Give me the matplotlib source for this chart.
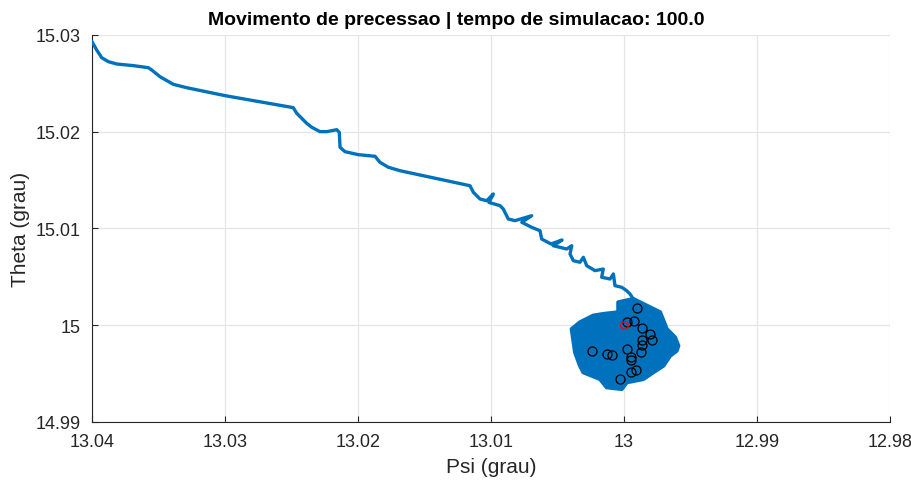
import matplotlib

matplotlib.use("Agg")
import matplotlib.pyplot as plt

plt.rcParams["font.family"] = ["Liberation Sans", "DejaVu Sans"]

# precession path (psi, theta) in degrees
psi_path = [13.04000, 13.03965, 13.03927, 13.03877, 13.03814, 13.03689, 13.03577, 13.03551,
            13.03489, 13.03389, 13.03288, 13.03000, 13.02487, 13.02461, 13.02386, 13.02348,
            13.02286, 13.02235, 13.02160, 13.02141, 13.02135, 13.02098, 13.01998, 13.01872,
            13.01835, 13.01772, 13.01684, 13.01158, 13.01133, 13.01083, 13.01032, 13.00983,
            13.01015, 13.00932, 13.00908, 13.00870, 13.00820, 13.00694, 13.00769, 13.00694,
            13.00632, 13.00619, 13.00549, 13.00466, 13.00532, 13.00431, 13.00393, 13.00406,
            13.00381, 13.00331, 13.00306, 13.00280, 13.00218, 13.00156, 13.00168, 13.00105,
            13.00080, 13.00068, 13.00017, 12.99980, 12.99955, 12.99930, 12.99905]
theta_path = [15.02931, 15.02845, 15.02765, 15.02724, 15.02700, 15.02683, 15.02662, 15.02638,
              15.02569, 15.02490, 15.02455, 15.02373, 15.02249, 15.02191, 15.02087, 15.02046,
              15.02001, 15.02001, 15.02021, 15.01994, 15.01839, 15.01794, 15.01763, 15.01746,
              15.01684, 15.01633, 15.01597, 15.01442, 15.01374, 15.01305, 15.01287, 15.01357,
              15.01269, 15.01236, 15.01202, 15.01098, 15.01081, 15.01132, 15.01064, 15.01012,
              15.00977, 15.00891, 15.00840, 15.00881, 15.00822, 15.00788, 15.00822, 15.00736,
              15.00667, 15.00651, 15.00702, 15.00615, 15.00564, 15.00581, 15.00496, 15.00478,
              15.00530, 15.00409, 15.00392, 15.00357, 15.00323, 15.00271, 15.00202]

# envelope of the nutation cloud at the end of the run
psi_cloud = [13.00043, 12.99930, 12.99855, 12.99729, 12.99679, 12.99617, 12.99592, 12.99604,
             12.99654, 12.99704, 12.99780, 12.99855, 12.99980, 13.00017, 13.00130, 13.00180,
             13.00306, 13.00331, 13.00368, 13.00393, 13.00331, 13.00231, 13.00156, 13.00043]
theta_cloud = [15.00237, 15.00271, 15.00220, 15.00134, 14.99961, 14.99875, 14.99789, 14.99737,
               14.99685, 14.99582, 14.99514, 14.99444, 14.99410, 14.99341, 14.99359, 14.99444,
               14.99514, 14.99582, 14.99720, 14.99961, 15.00030, 15.00099, 15.00116, 15.00134]

# sampled states
psi_samples = [12.99900, 12.99980, 12.99923, 12.99867, 12.99805, 12.99792, 12.99867, 12.99867,
               12.99872, 12.99980, 12.99947, 12.99947, 13.00243, 13.00130, 13.00093, 12.99910,
               12.99947, 13.00030]
theta_samples = [15.00178, 15.00037, 15.00047, 14.99968, 14.99910, 14.99848, 14.99848, 14.99796,
                 14.99727, 14.99755, 14.99675, 14.99641, 14.99737, 14.99703, 14.99689, 14.99541,
                 14.99514, 14.99444]

psi_ref = 13.0
theta_ref = 15.0

x_ticks = [13.04, 13.03, 13.02, 13.01, 13.0, 12.99, 12.98]
x_labels = ["13.04", "13.03", "13.02", "13.01", "13", "12.99", "12.98"]
y_ticks = [14.99, 15.0, 15.01, 15.02, 15.03]
y_labels = ["14.99", "15", "15.01", "15.02", "15.03"]

blue = "#0072BD"
dark = "#262626"

fig = plt.figure(figsize=(9.12, 4.81), dpi=100)
ax = fig.add_axes([0.1009, 0.1206, 0.875, 0.8046])

ax.fill(psi_cloud, theta_cloud, color=blue, lw=3, joinstyle="round", zorder=2)
ax.plot(psi_path, theta_path, color=blue, lw=2.4, solid_joinstyle="round",
        solid_capstyle="round", zorder=3)
ax.plot(psi_samples, theta_samples, "o", mfc="none", mec="black", ms=6.5, mew=0.9, zorder=4)
ax.plot(psi_ref, theta_ref, "o", mfc="none", mec="red", ms=5.5, mew=0.9, zorder=5)

ax.set_xlim(13.04, 12.98)
ax.set_ylim(14.99, 15.03)
ax.set_xticks(x_ticks, x_labels)
ax.set_yticks(y_ticks, y_labels)
ax.grid(True, color="#e5e5e5", lw=0.9)
ax.set_axisbelow(True)
for side in ("top", "right"):
    ax.spines[side].set_visible(False)
for side in ("left", "bottom"):
    ax.spines[side].set_color(dark)
    ax.spines[side].set_linewidth(0.8)
ax.tick_params(direction="in", length=4, colors=dark, labelsize=13, pad=8)

ax.set_xlabel("Psi (grau)", fontsize=15, color=dark, labelpad=5)
ax.set_ylabel("Theta (grau)", fontsize=15, color=dark, labelpad=4)
ax.set_title("Movimento de precessao | tempo de simulacao: 100.0",
             fontsize=14, fontweight="bold", x=0.457, pad=8)

fig.savefig("out.png", dpi=100)
